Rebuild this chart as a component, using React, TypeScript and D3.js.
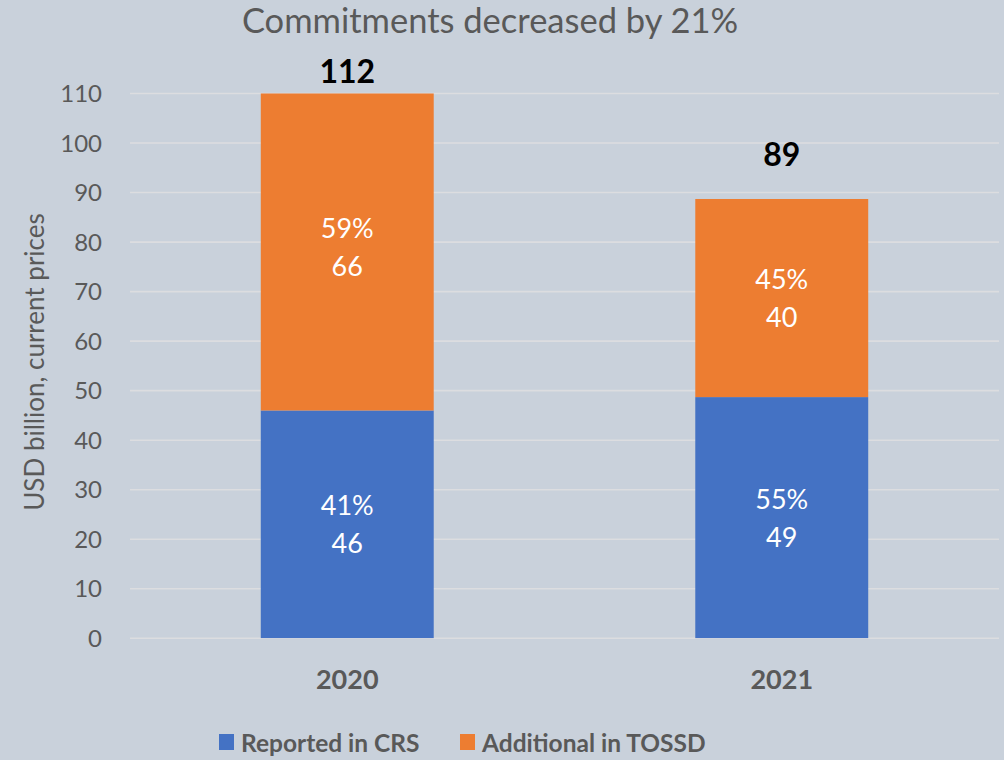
import { useEffect } from "react";
import * as d3 from "d3";

const YEARS = ["2020", "2021"];
const REPORTED_CRS = [46.0, 48.7];
const ADDITIONAL_TOSSD = [66.0, 40.0];
const Y_TICKS = [0, 10, 20, 30, 40, 50, 60, 70, 80, 90, 100, 110];
const SERIES_NAMES = ["Reported in CRS", "Additional in TOSSD"];
const TITLE = "Commitments decreased by 21%";
const Y_LABEL = "USD billion, current prices";

const W = 1004;
const H = 760;
const BG = "#c9d1db";
const GRID = "#dcdde0";
const TEXT = "#595959";
const COLORS = ["#4472c4", "#ed7d31"];
const FONT = "Lato, 'Open Sans', sans-serif";

// total labels were placed by hand in the original, offset above the visible bar top
const TOTAL_OFFSET = [11, 33];

export default function App() {
  useEffect(() => {
    document.body.style.margin = "0";
  }, []);

  const x = d3
    .scaleBand<string>()
    .domain(YEARS)
    .range([130, 999])
    .paddingInner(0.602)
    .paddingOuter(0.301);

  const y = d3.scaleLinear().domain([0, 110]).range([638.3, 93.5]);

  const rows = YEARS.map((year, i) => ({
    year,
    crs: REPORTED_CRS[i],
    tossd: ADDITIONAL_TOSSD[i],
    total: REPORTED_CRS[i] + ADDITIONAL_TOSSD[i],
  }));

  const stack = d3.stack<(typeof rows)[number]>().keys(["crs", "tossd"]);
  const layers = stack(rows);

  const yMax = y.domain()[1];

  return (
    <svg width={W} height={H} style={{ display: "block", background: BG }} fontFamily={FONT}>
      <rect width={W} height={H} fill={BG} />
      <defs>
        <clipPath id="plot">
          <rect x={130} y={y(yMax)} width={869} height={y(0) - y(yMax)} />
        </clipPath>
      </defs>

      <text x={490} y={33} textAnchor="middle" fontSize={34.5} fill={TEXT}>
        {TITLE}
      </text>

      {/* gridlines and ticks */}
      {Y_TICKS.map((t) => (
        <g key={t}>
          <line x1={130} x2={999} y1={y(t)} y2={y(t)} stroke={GRID} strokeWidth={1.6} />
          <text x={102} y={y(t)} dy="0.36em" textAnchor="end" fontSize={24} fill={TEXT}>
            {t}
          </text>
        </g>
      ))}

      <text
        transform={`translate(35,${362}) rotate(-90)`}
        textAnchor="middle"
        dy="0.35em"
        fontSize={26}
        fill={TEXT}
      >
        {Y_LABEL}
      </text>

      {/* bars */}
      <g clipPath="url(#plot)">
        {layers.map((layer, li) =>
          layer.map((d) => (
            <rect
              key={`${li}-${d.data.year}`}
              x={x(d.data.year)}
              width={x.bandwidth()}
              y={y(d[1])}
              height={y(d[0]) - y(d[1])}
              fill={COLORS[li]}
            />
          ))
        )}
      </g>

      {/* segment labels, centred on the full (unclipped) segment */}
      {layers.map((layer, li) =>
        layer.map((d) => {
          const mid = (y(d[1]) + y(d[0])) / 2;
          const cx = (x(d.data.year) ?? 0) + x.bandwidth() / 2;
          const v = d[1] - d[0];
          const pct = d3.format(".0%")(v / d.data.total);
          return (
            <g key={`lbl-${li}-${d.data.year}`} fill="#ffffff" fontSize={27} textAnchor="middle">
              <text x={cx} y={mid - 9}>{pct}</text>
              <text x={cx} y={mid + 29}>{d3.format(".0f")(v)}</text>
            </g>
          );
        })
      )}

      {/* totals */}
      {rows.map((r, i) => (
        <text
          key={`tot-${r.year}`}
          x={(x(r.year) ?? 0) + x.bandwidth() / 2}
          y={y(Math.min(r.total, yMax)) - TOTAL_OFFSET[i]}
          textAnchor="middle"
          fontSize={32}
          fontWeight="bold"
          fill="#000000"
        >
          {d3.format(".0f")(r.total)}
        </text>
      ))}

      {/* category axis */}
      {YEARS.map((yr) => (
        <text
          key={`cat-${yr}`}
          x={(x(yr) ?? 0) + x.bandwidth() / 2}
          y={689}
          textAnchor="middle"
          fontSize={27}
          fontWeight="bold"
          fill={TEXT}
        >
          {yr}
        </text>
      ))}

      {/* legend */}
      {SERIES_NAMES.map((name, i) => {
        const lx = [219, 460][i];
        return (
          <g key={name}>
            <rect x={lx} y={734} width={15} height={16} fill={COLORS[i]} />
            <text x={lx + 22} y={752} fontSize={24.5} fontWeight="bold" fill={TEXT}>
              {name}
            </text>
          </g>
        );
      })}
    </svg>
  );
}
